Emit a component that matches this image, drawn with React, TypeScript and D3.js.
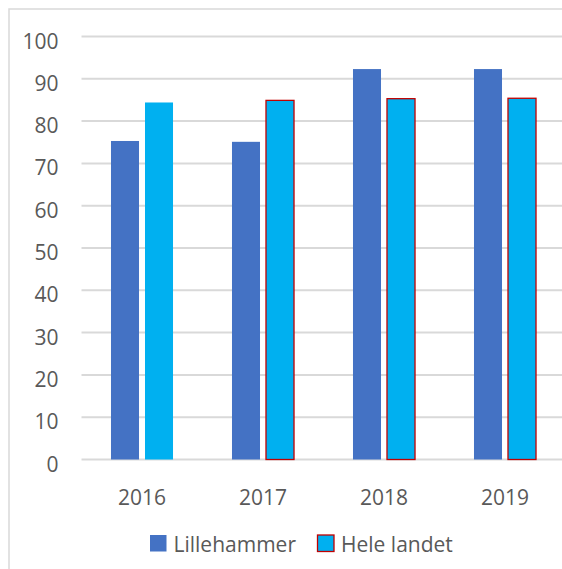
import { useRef, useEffect } from "react";
import * as d3 from "d3";

const years = ["2016", "2017", "2018", "2019"];
const seriesNames = ["Lillehammer", "Hele landet"];
const lillehammer = [75.3, 75.1, 92.3, 92.3];
const heleLandet = [84.4, 84.9, 85.3, 85.4];
const yTicks = [0, 10, 20, 30, 40, 50, 60, 70, 80, 90, 100];

const colors = ["#4472C4", "#00B0F0"];
const textColor = "#595959";
const gridColor = "#d9d9d9";
const font = "'Open Sans', 'Noto Sans', sans-serif";

export default function App() {
  const svgRef = useRef<SVGSVGElement>(null);
  const width = 562;
  const height = 569;

  useEffect(() => {
    if (!svgRef.current) return;
    const svg = d3.select(svgRef.current);
    svg.selectAll("*").remove();

    // chart frame (runs past the right/bottom edge of the picture)
    svg
      .append("rect")
      .attr("x", 9)
      .attr("y", 9)
      .attr("width", 600)
      .attr("height", 600)
      .attr("fill", "#fff")
      .attr("stroke", gridColor)
      .attr("stroke-width", 1.5);

    const plot = { left: 81.5, right: 565.5, top: 36.5, bottom: 459.5 };

    const x = d3.scaleBand().domain(years).range([plot.left, plot.right]).padding(0);
    const x1 = d3
      .scaleBand()
      .domain(seriesNames)
      .range([0, x.bandwidth()])
      .paddingInner(0.176)
      .paddingOuter(0.867);
    const y = d3.scaleLinear().domain([0, 100]).range([plot.bottom, plot.top]);

    // Grid lines
    svg
      .selectAll(".grid-line")
      .data(yTicks)
      .join("line")
      .attr("class", "grid-line")
      .attr("x1", plot.left)
      .attr("x2", width)
      .attr("y1", (d) => y(d))
      .attr("y2", (d) => y(d))
      .attr("stroke", gridColor)
      .attr("stroke-width", 2);

    // Y labels
    svg
      .selectAll(".y-label")
      .data(yTicks)
      .join("text")
      .attr("class", "y-label")
      .attr("x", 58.5)
      .attr("y", (d) => y(d) + 12)
      .attr("text-anchor", "end")
      .attr("fill", textColor)
      .style("font-family", font)
      .style("font-size", "21px")
      .text((d) => d);

    // Bars
    const rows = years.map((yr, i) => ({
      year: yr,
      values: [lillehammer[i], heleLandet[i]],
    }));

    const groups = svg
      .selectAll(".group")
      .data(rows)
      .join("g")
      .attr("class", "group")
      .attr("transform", (d) => `translate(${x(d.year)},0)`);

    groups
      .selectAll("rect")
      .data((d, i) =>
        d.values.map((v, s) => ({ v, s, outline: s === 1 && i > 0 }))
      )
      .join("rect")
      .attr("x", (d) => x1(seriesNames[d.s]) ?? 0)
      .attr("y", (d) => y(d.v))
      .attr("width", x1.bandwidth())
      .attr("height", (d) => y(0) - y(d.v))
      .attr("fill", (d) => colors[d.s])
      .attr("stroke", (d) => (d.outline ? "#C00000" : "none"))
      .attr("stroke-width", 1.3);

    // X labels
    svg
      .selectAll(".x-label")
      .data(years)
      .join("text")
      .attr("class", "x-label")
      .attr("x", (d) => (x(d) ?? 0) + x.bandwidth() / 2)
      .attr("y", 504.5)
      .attr("text-anchor", "middle")
      .attr("fill", textColor)
      .style("font-family", font)
      .style("font-size", "21px")
      .text((d) => d);

    // Legend
    const legendX = [150, 317.5];
    const legend = svg
      .selectAll(".legend")
      .data(seriesNames)
      .join("g")
      .attr("class", "legend")
      .attr("transform", (_, i) => `translate(${legendX[i]},535)`);

    legend
      .append("rect")
      .attr("width", 16.5)
      .attr("height", 16.5)
      .attr("fill", (_, i) => colors[i])
      .attr("stroke", (_, i) => (i === 1 ? "#C00000" : "none"))
      .attr("stroke-width", 1.3);

    legend
      .append("text")
      .attr("x", 23.5)
      .attr("y", 16.5)
      .attr("fill", textColor)
      .style("font-family", font)
      .style("font-size", "21px")
      .text((d) => d);
  }, []);

  return (
    <svg
      ref={svgRef}
      width={width}
      height={height}
      viewBox={`0 0 ${width} ${height}`}
      style={{ position: "absolute", left: 0, top: 0, display: "block" }}
    />
  );
}
